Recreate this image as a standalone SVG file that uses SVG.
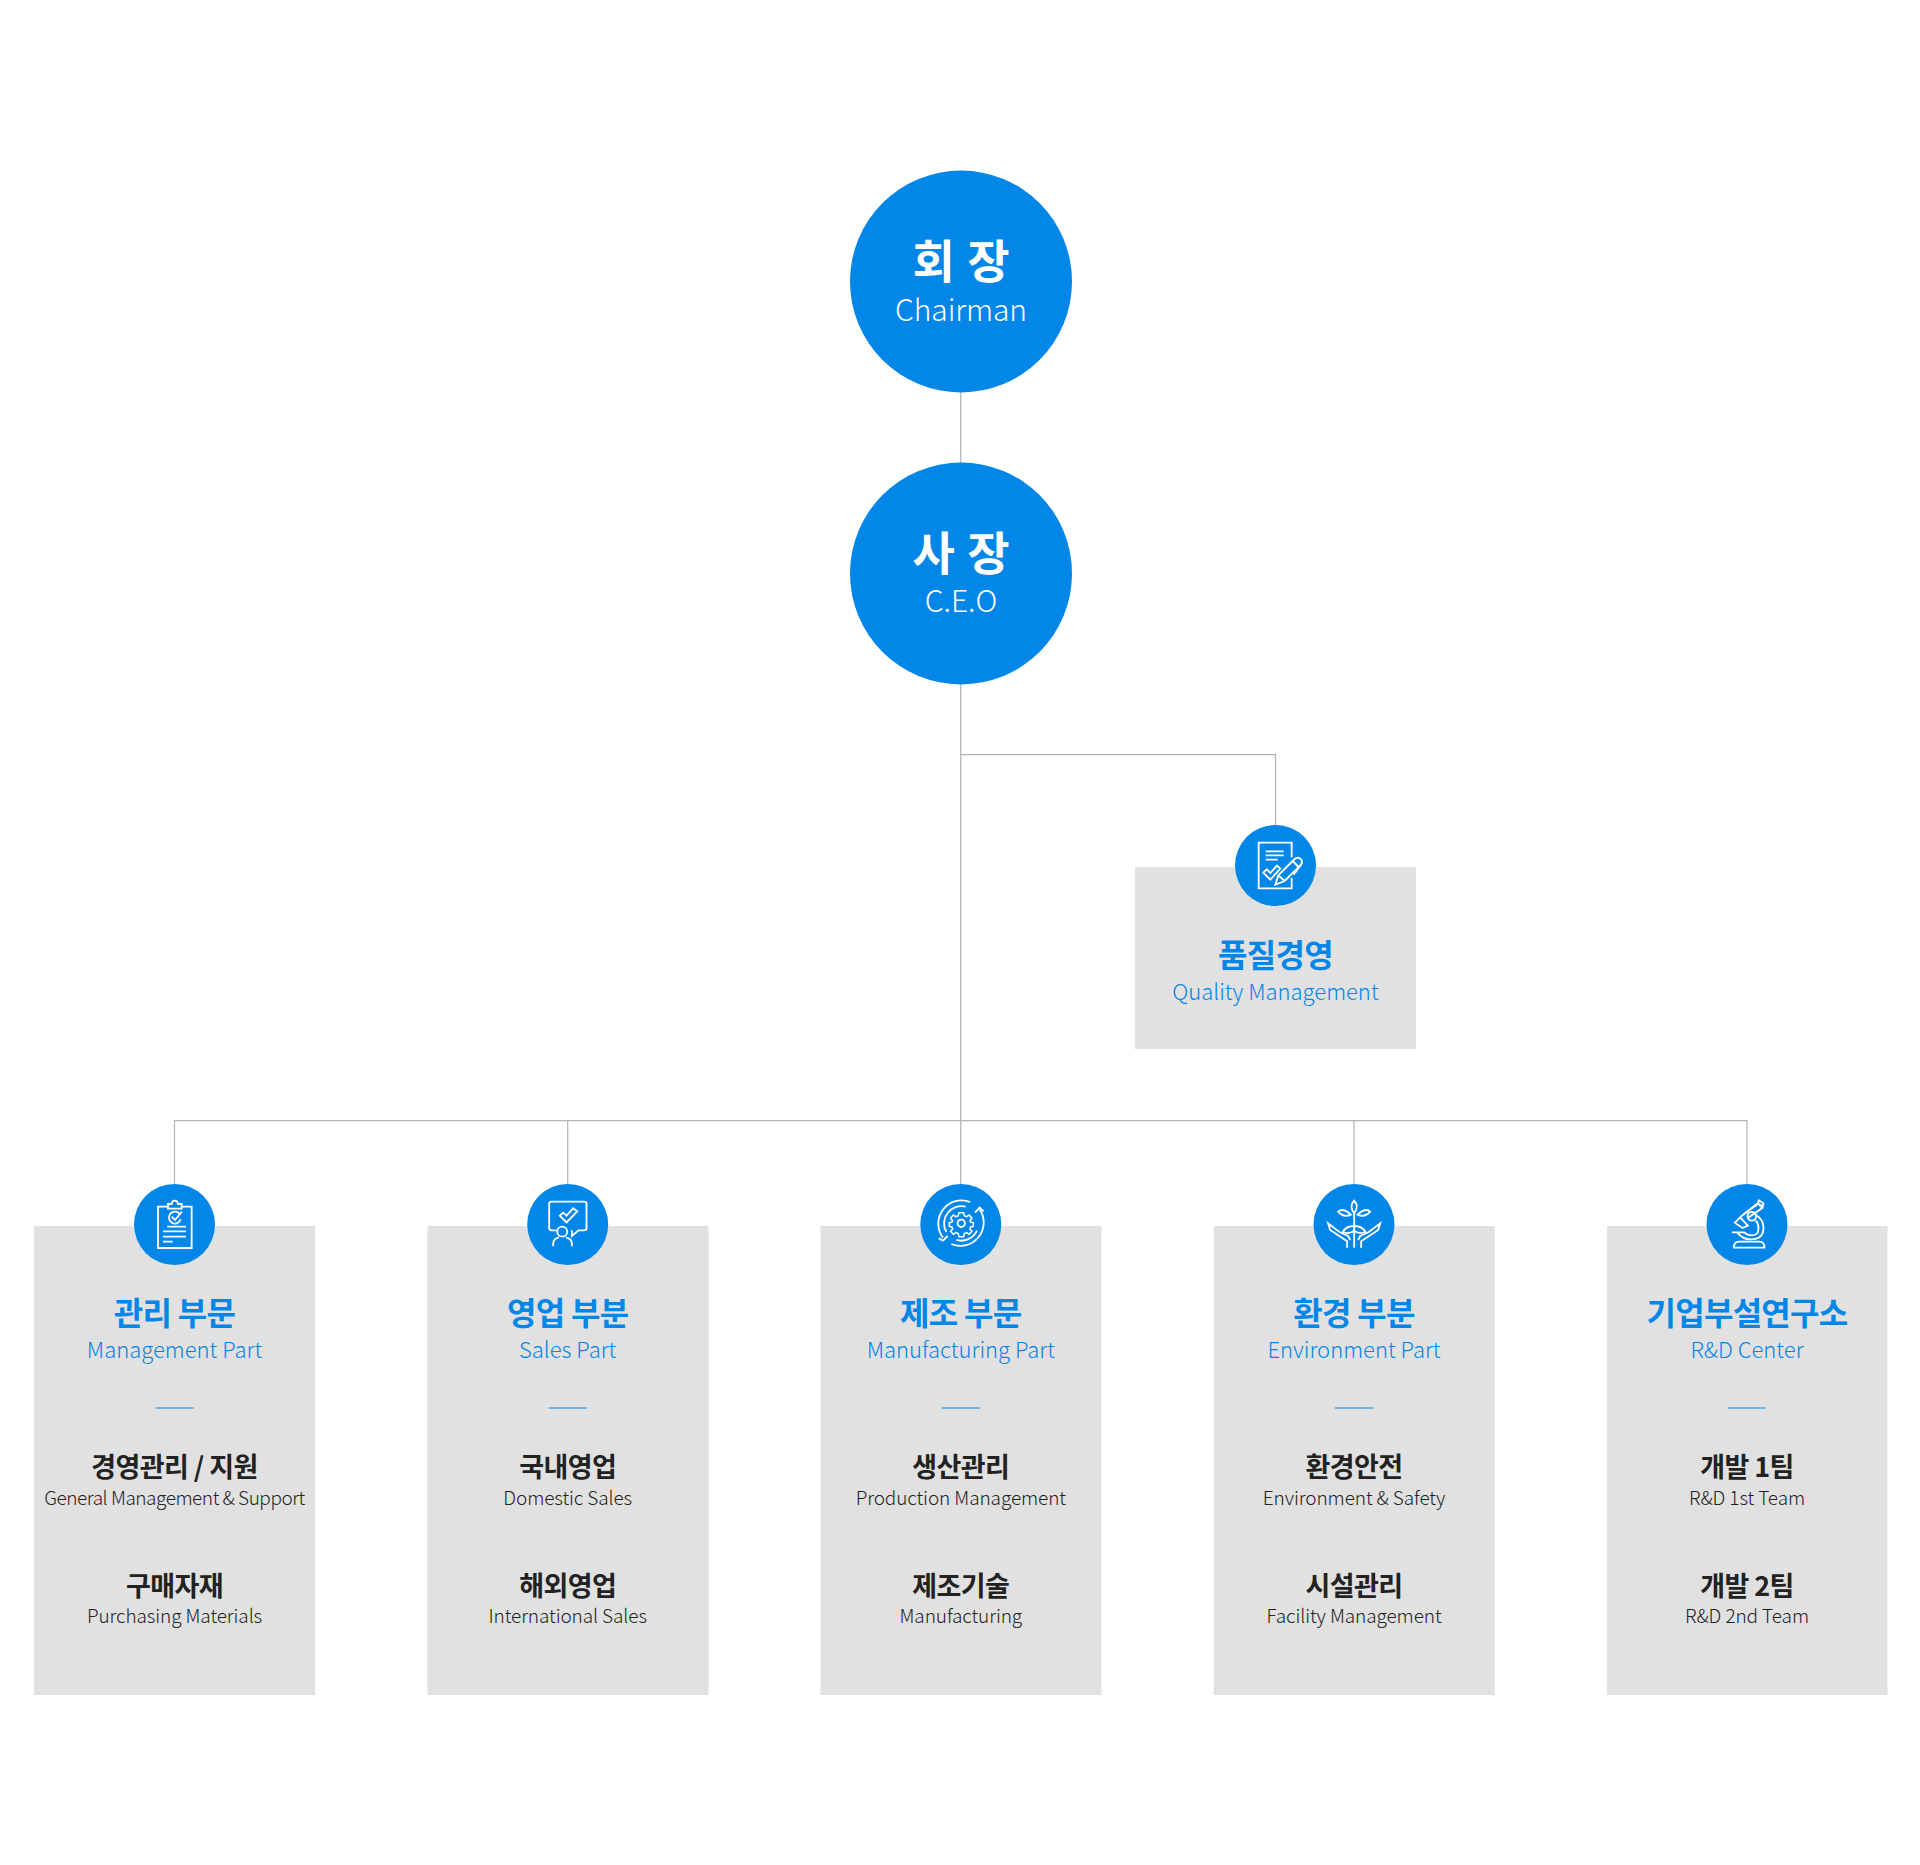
<svg xmlns="http://www.w3.org/2000/svg" width="1920" height="1865" viewBox="0 0 1920 1865">
<style>
text{font-family:"Noto Sans CJK KR","Noto Sans",sans-serif;text-anchor:middle}
.box{fill:#e1e1e1}
.blue{fill:#0286e8}
.conn{fill:none;stroke:#b4b4b4;stroke-width:1.25}
.t1{font-size:46px;font-weight:700;fill:#fff;word-spacing:2px}
.t2{font-size:30px;font-weight:300;fill:#fff;letter-spacing:-.1px}
.h{font-size:32px;font-weight:700;fill:#0286e8;letter-spacing:-.7px}
.e{font-size:22px;font-weight:300;fill:#0286e8}
.i{font-size:27px;font-weight:700;fill:#222;letter-spacing:-.6px}
.s{font-size:19px;font-weight:300;fill:#222;letter-spacing:-.1px}
.g{letter-spacing:-.47px}
.d{stroke:#0286e8;stroke-width:1;fill:none}
.ic{fill:none;stroke:#fff;stroke-width:5.500;stroke-linejoin:miter}
</style>
<rect width="1920" height="1865" fill="#fff"/>
<g id="connectors" class="conn">
<path d="M960.700 392V1184M960.700 754.500H1275.500V825M174.500 1184V1120.500H1747V1184M567.700 1120.500V1184M1354 1120.500V1184"/>
</g>
<g id="chairman"><circle class="blue" cx="961" cy="281.500" r="111"/><text class="t1" x="961" y="278">회 장</text><text class="t2" x="961" y="320.500">Chairman</text></g>
<g id="ceo"><circle class="blue" cx="961" cy="573.500" r="111"/><text class="t1" x="961" y="570">사 장</text><text class="t2" x="961" y="612">C.E.O</text></g>
<g id="quality">
<rect class="box" x="1135" y="867" width="281" height="182"/>
<circle class="blue" cx="1275.500" cy="865.500" r="40.500"/>
<g class="ic" transform="translate(1221 812) scale(.3333)">
<path d="M212 136V92H113V229H212V198"/><path d="M134 118H188M134 130H188M134 143H170"/>
<path d="M127 182L137 172L148 183L168 161L178 170L148 203Z"/>
<path d="M163 218L172 190L221 141Q229 134 238 140Q247 149 240 158L191 207Z"/><path d="M172 190L191 207M215 147L233 165M240 158L218 188"/>
</g>
<text class="h" x="1275.500" y="967">품질경영</text><text class="e" x="1275.500" y="1000">Quality Management</text></g>
<g id="part1">
<rect class="box" x="34" y="1226" width="281" height="469"/>
<circle class="blue" cx="174.500" cy="1224.500" r="40.500"/>
<g class="ic" transform="translate(120 1170) scale(.3333)">
<path d="M143 110H114V234H215V110H186"/><path d="M144 116V102H155Q156 92 164 92Q173 92 174 102H185V116Z"/>
<path d="M180 133A18 18 0 1 0 182 148"/><path d="M155 140L165 150L186 125"/>
<path d="M142 170H198M129 184H198M129 200H198M129 215H158"/>
</g>
<text class="h" x="174.500" y="1325">관리 부문</text><text class="e" x="174.500" y="1358">Management Part</text>
<path class="d" d="M155.500 1408H193.500"/>
<text class="i" x="174.500" y="1477">경영관리 / 지원</text><text class="s g" x="174.500" y="1505">General Management &amp; Support</text>
<text class="i" x="174.500" y="1596">구매자재</text><text class="s" x="174.500" y="1623">Purchasing Materials</text></g>
<g id="part2">
<rect class="box" x="427.500" y="1226" width="281" height="469"/>
<circle class="blue" cx="567.700" cy="1224.500" r="40.500"/>
<g class="ic" transform="translate(513.200 1170) scale(.3333)">
<path d="M130 181H115Q108 181 108 174V102Q108 95 115 95H213Q220 95 220 102V174Q220 181 213 181H196L176 198V181"/>
<path d="M140 137L150 128L160 137L180 115L192 124L160 157Z"/>
<circle cx="147" cy="185" r="15"/><path d="M120 229V222Q120 205 137 202M176 229V222Q176 205 158 202"/>
</g>
<text class="h" x="567.700" y="1325">영업 부분</text><text class="e" x="567.700" y="1358">Sales Part</text>
<path class="d" d="M548.700 1408H586.700"/>
<text class="i" x="567.700" y="1477">국내영업</text><text class="s" x="567.700" y="1505">Domestic Sales</text>
<text class="i" x="567.700" y="1596">해외영업</text><text class="s" x="567.700" y="1623">International Sales</text></g>
<g id="part3">
<rect class="box" x="820.500" y="1226" width="281" height="469"/>
<circle class="blue" cx="960.800" cy="1224.500" r="40.500"/>
<g class="ic" transform="translate(906.300 1170) scale(.3333)">
<path d="M110 203A70 70 0 0 1 192 96M220 118A70 70 0 0 1 135 222M120 186A52 52 0 0 1 178 110M212 182A52 52 0 0 1 150 210"/>
<path d="M97 205L110 212L124 198M206 128L220 113L232 124"/>
<circle cx="165" cy="160" r="11"/>
<path d="M158 128H172L174 137L181 140L189 135L197 145L191 152L193 156L201 158V169L193 171L191 177L197 184L188 193L181 188L174 191L172 200H158L156 191L149 188L141 193L133 184L139 177L137 171L129 169V158L137 156L139 152L133 145L141 135L149 140L156 137Z" stroke-width="4.500"/>
</g>
<text class="h" x="960.800" y="1325">제조 부문</text><text class="e" x="960.800" y="1358">Manufacturing Part</text>
<path class="d" d="M941.800 1408H979.800"/>
<text class="i" x="960.800" y="1477">생산관리</text><text class="s" x="960.800" y="1505">Production Management</text>
<text class="i" x="960.800" y="1596">제조기술</text><text class="s" x="960.800" y="1623">Manufacturing</text></g>
<g id="part4">
<rect class="box" x="1213.700" y="1226" width="281" height="469"/>
<circle class="blue" cx="1354" cy="1224.500" r="40.500"/>
<g class="ic" transform="translate(1299.500 1170) scale(.3333)">
<path d="M164 92Q180 108 164 130Q148 108 164 92ZM116 125Q130 112 154 134Q132 144 116 125ZM212 125Q198 112 174 134Q196 144 212 125Z"/>
<path d="M164 130V233"/>
<path d="M164 168Q140 168 130 186Q152 194 164 182Q176 194 198 186Q188 168 164 168Z"/>
<path d="M143 233V214L92 180L86 160L120 186L146 198L152 210M185 233V214L236 180L242 160L208 186L182 198L176 210"/>
</g>
<text class="h" x="1354" y="1325">환경 부분</text><text class="e" x="1354" y="1358">Environment Part</text>
<path class="d" d="M1335 1408H1373"/>
<text class="i" x="1354" y="1477">환경안전</text><text class="s" x="1354" y="1505">Environment &amp; Safety</text>
<text class="i" x="1354" y="1596">시설관리</text><text class="s" x="1354" y="1623">Facility Management</text></g>
<g id="part5">
<rect class="box" x="1607" y="1226" width="280.500" height="469"/>
<circle class="blue" cx="1747" cy="1224.500" r="40.500"/>
<g class="ic" transform="translate(1692.500 1170) scale(.3333)">
<path d="M127 158L143 142L166 167L150 174Z"/><path d="M144 140L197 101L211 109L213 100L199 91L196 100L150 135M200 104L209 114L165 145"/>
<circle cx="178" cy="139" r="13"/>
<path d="M190 135Q213 148 213 174Q213 208 175 208Q150 208 134 187H118M134 187H155Q165 196 178 196Q199 196 198 174Q198 160 190 152"/>
<path d="M124 233Q124 215 140 215H200Q216 215 216 233Z"/>
</g>
<text class="h" x="1747" y="1325">기업부설연구소</text><text class="e" x="1747" y="1358">R&amp;D Center</text>
<path class="d" d="M1728 1408H1766"/>
<text class="i" x="1747" y="1477">개발 1팀</text><text class="s" x="1747" y="1505">R&amp;D 1st Team</text>
<text class="i" x="1747" y="1596">개발 2팀</text><text class="s" x="1747" y="1623">R&amp;D 2nd Team</text></g>
</svg>
